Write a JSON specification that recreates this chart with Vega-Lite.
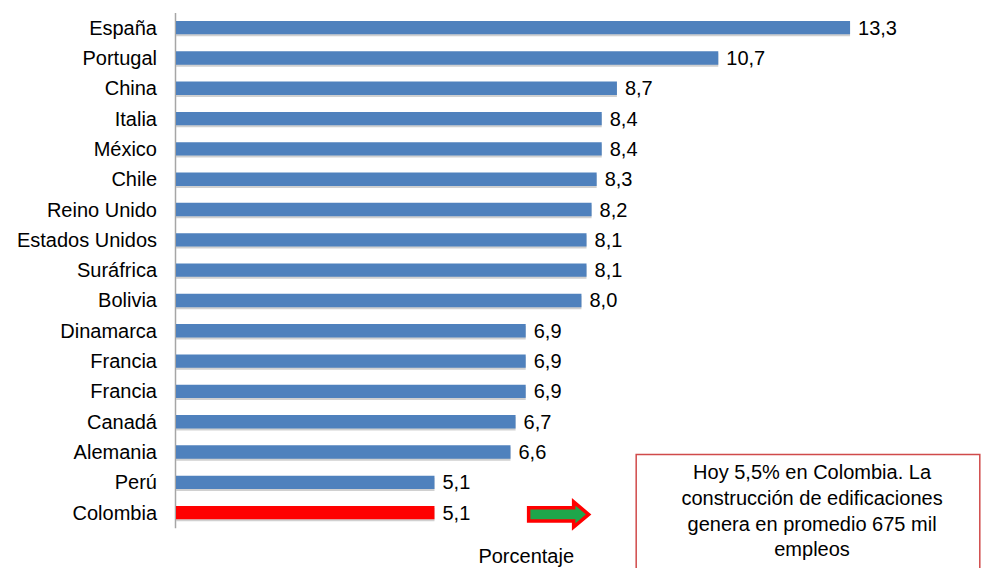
{
  "$schema": "https://vega.github.io/schema/vega-lite/v6.json",
  "autosize": "none",
  "width": 699.4,
  "height": 515.3,
  "padding": {"left": 176, "top": 12.5, "right": 105.6, "bottom": 40.2},
  "background": "white",
  "config": {
    "view": {"stroke": null},
    "font": "Liberation Sans",
    "locale": {"number": {"decimal": ",", "thousands": ".", "grouping": [3], "currency": ["", ""]}}
  },
  "datasets": {
    "paises": [
      {"id": "01", "pais": "España", "valor": 13.3, "grupo": "otros"},
      {"id": "02", "pais": "Portugal", "valor": 10.7, "grupo": "otros"},
      {"id": "03", "pais": "China", "valor": 8.7, "grupo": "otros"},
      {"id": "04", "pais": "Italia", "valor": 8.4, "grupo": "otros"},
      {"id": "05", "pais": "México", "valor": 8.4, "grupo": "otros"},
      {"id": "06", "pais": "Chile", "valor": 8.3, "grupo": "otros"},
      {"id": "07", "pais": "Reino Unido", "valor": 8.2, "grupo": "otros"},
      {"id": "08", "pais": "Estados Unidos", "valor": 8.1, "grupo": "otros"},
      {"id": "09", "pais": "Suráfrica", "valor": 8.1, "grupo": "otros"},
      {"id": "10", "pais": "Bolivia", "valor": 8.0, "grupo": "otros"},
      {"id": "11", "pais": "Dinamarca", "valor": 6.9, "grupo": "otros"},
      {"id": "12", "pais": "Francia", "valor": 6.9, "grupo": "otros"},
      {"id": "13", "pais": "Francia", "valor": 6.9, "grupo": "otros"},
      {"id": "14", "pais": "Canadá", "valor": 6.7, "grupo": "otros"},
      {"id": "15", "pais": "Alemania", "valor": 6.6, "grupo": "otros"},
      {"id": "16", "pais": "Perú", "valor": 5.1, "grupo": "otros"},
      {"id": "17", "pais": "Colombia", "valor": 5.1, "grupo": "Colombia"}
    ],
    "nota": [
      {"texto": "Hoy 5,5% en Colombia. La\nconstrucción de edificaciones\ngenera en promedio 675 mil\nempleos"}
    ]
  },
  "resolve": {"scale": {"y": "independent"}},
  "layer": [
    {
      "data": {"name": "paises"},
      "encoding": {
        "y": {
          "field": "id",
          "type": "nominal",
          "sort": null,
          "scale": {"paddingInner": 0.56, "paddingOuter": 0.28},
          "axis": {
            "title": null,
            "labels": false,
            "ticks": false,
            "grid": false,
            "domainColor": "#a6a6a6",
            "domainWidth": 1.5,
            "offset": 1
          }
        }
      },
      "layer": [
        {
          "mark": {"type": "bar", "color": "#c4c4c4", "yOffset": 2, "x2Offset": 2, "opacity": 0.8},
          "encoding": {
            "x": {
              "field": "valor",
              "type": "quantitative",
              "scale": {"domain": [0, 13.8], "nice": false},
              "axis": {
                "title": "Porcentaje",
                "labels": false,
                "ticks": false,
                "domain": false,
                "grid": false,
                "titleFontSize": 20,
                "titleFontWeight": "normal",
                "titleColor": "#000000",
                "titlePadding": 19
              }
            }
          }
        },
        {
          "mark": {"type": "bar"},
          "encoding": {
            "x": {"field": "valor", "type": "quantitative"},
            "color": {
              "field": "grupo",
              "type": "nominal",
              "scale": {"domain": ["otros", "Colombia"], "range": ["#4f81bd", "#ff0000"]},
              "legend": null
            }
          }
        },
        {
          "mark": {"type": "text", "align": "left", "baseline": "middle", "dx": 8, "dy": 1, "fontSize": 20, "color": "#000000"},
          "encoding": {
            "x": {"field": "valor", "type": "quantitative"},
            "text": {"field": "valor", "type": "quantitative", "format": ".1f"}
          }
        },
        {
          "mark": {"type": "text", "align": "right", "baseline": "middle", "dx": -19, "dy": 1, "fontSize": 20, "color": "#000000"},
          "encoding": {
            "x": {"datum": 0, "type": "quantitative"},
            "text": {"field": "pais", "type": "nominal"}
          }
        }
      ]
    },
    {
      "data": {"name": "nota"},
      "encoding": {
        "y": {
          "datum": 0,
          "type": "quantitative",
          "scale": {"domain": [0, 17], "reverse": true, "nice": false, "zero": false},
          "axis": null
        }
      },
      "layer": [
        {
          "mark": {"type": "rect", "fill": "white", "stroke": "#d04a4a", "strokeWidth": 1.5},
          "encoding": {
            "x": {"datum": 9.08, "type": "quantitative"},
            "x2": {"datum": 15.86},
            "y": {"datum": 14.58, "type": "quantitative"},
            "y2": {"datum": 18.6}
          }
        },
        {
          "mark": {"type": "text", "align": "center", "baseline": "middle", "fontSize": 20, "lineHeight": 25.7, "lineBreak": "\n", "color": "#000000"},
          "encoding": {
            "x": {"datum": 12.55, "type": "quantitative"},
            "y": {"datum": 15.2, "type": "quantitative"},
            "text": {"field": "texto", "type": "nominal"}
          }
        },
        {
          "mark": {
            "type": "point",
            "shape": "M-1,-0.22L0.5,-0.22L0.5,-0.42L1,0L0.5,0.42L0.5,0.22L-1,0.22Z",
            "size": 3600,
            "filled": true,
            "fill": "#1ea64b",
            "stroke": "#ff0000",
            "strokeWidth": 3.5,
            "opacity": 1,
            "fillOpacity": 1,
            "strokeOpacity": 1
          },
          "encoding": {
            "x": {"datum": 7.55, "type": "quantitative"},
            "y": {"datum": 16.56, "type": "quantitative"}
          }
        }
      ]
    }
  ]
}
